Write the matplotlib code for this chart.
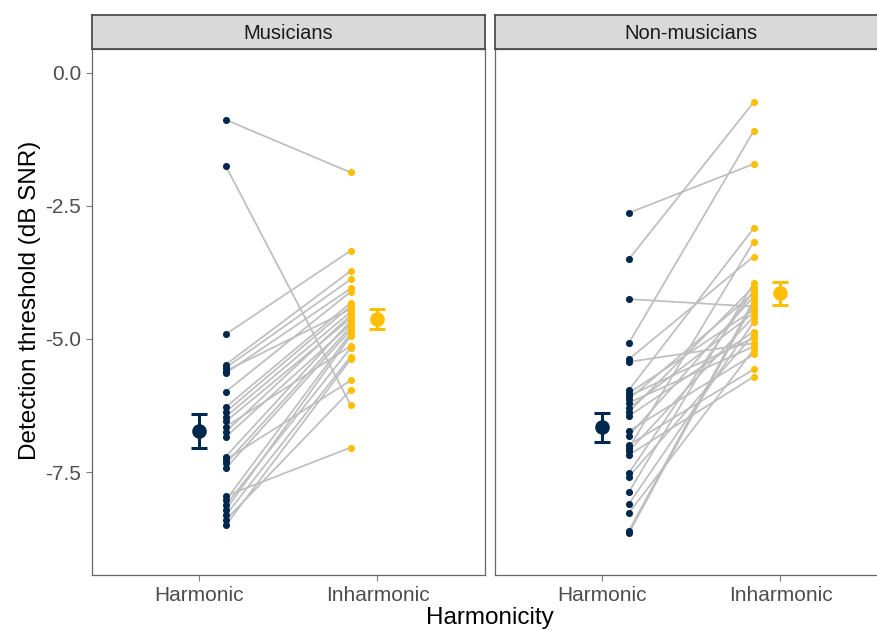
import numpy as np
import matplotlib
matplotlib.use("Agg")
import matplotlib.pyplot as plt

plt.rcParams['font.family'] = ['Liberation Sans', 'DejaVu Sans']

groups = ['Musicians', 'Non-musicians']
conditions = ['Harmonic', 'Inharmonic']

# paired thresholds (dB SNR), one entry per listener
mus_harm = [-0.88, -1.75, -4.91, -5.48, -5.54, -5.60, -5.64, -5.99, -6.28, -6.37, -6.46, -6.55, -6.65,
            -6.74, -6.84, -7.21, -7.27, -7.34, -7.43, -7.95, -8.03, -8.12, -8.21, -8.31, -8.40, -8.50]
mus_inh = [-1.87, -6.24, -3.34, -3.72, -3.88, -4.44, -4.05, -4.11, -4.32, -4.38, -4.49, -4.61, -5.13,
           -4.55, -4.72, -4.66, -5.78, -4.77, -4.83, -7.04, -4.89, -5.17, -4.94, -5.33, -5.96, -5.38]

non_harm = [-2.63, -3.50, -4.25, -5.08, -5.38, -5.43, -5.96, -6.02, -6.07, -6.13, -6.20, -6.30, -6.37, -6.45,
            -6.73, -6.82, -6.99, -7.05, -7.11, -7.18, -7.52, -7.59, -7.88, -8.10, -8.27, -8.61, -8.65]
non_inh = [-1.71, -0.55, -4.39, -1.09, -3.45, -5.08, -2.92, -4.45, -4.98, -4.14, -5.14, -4.51, -4.02, -4.86,
           -5.29, -4.20, -5.57, -3.17, -4.58, -5.71, -4.08, -4.92, -3.95, -4.68, -5.20, -4.27, -4.32]

# group means and standard errors [harmonic, inharmonic]
mus_mean = [-6.73, -4.63]
mus_se = [0.32, 0.19]
non_mean = [-6.66, -4.14]
non_se = [0.27, 0.22]

yticks = [0.0, -2.5, -5.0, -7.5]

navy = '#00274C'
gold = '#FFBF00'
cols = [navy, gold]

W, H = 878, 630
fig = plt.figure(figsize=(W / 100, H / 100), dpi=100)

panel_left = [92, 495]
panel_w = 392.5
top, bottom, strip_top = 49, 575, 15

data = [(mus_harm, mus_inh, mus_mean, mus_se), (non_harm, non_inh, non_mean, non_se)]

for k, (h, i, m, se) in enumerate(data):
    x0 = panel_left[k]
    ax = fig.add_axes([x0 / W, 1 - bottom / H, panel_w / W, (bottom - top) / H])
    for a, b in zip(h, i):
        ax.plot([1.15, 1.85], [a, b], color='#BEBEBE', lw=1.25, zorder=1)
    ax.scatter(np.full(len(h), 1.15), h, s=26, color=navy, zorder=2, linewidths=0)
    ax.scatter(np.full(len(i), 1.85), i, s=26, color=gold, zorder=2, linewidths=0)
    for j in range(2):
        ax.errorbar(j + 1, m[j], yerr=se[j], fmt='o', color=cols[j], ms=9.5,
                    elinewidth=2.2, capsize=5.5, capthick=2.2, zorder=3)
    ax.set_xlim(0.4, 2.6)
    ax.set_ylim(-9.436, 0.451)
    ax.set_xticks([1, 2])
    ax.set_xticklabels(conditions)
    ax.tick_params(colors='#7F7F7F', labelcolor='#4D4D4D', labelsize=15, length=4, width=0.8, pad=4,
                   right=False, top=False)
    if k == 0:
        ax.set_yticks(yticks)
        ax.set_yticklabels(['%.1f' % v for v in yticks])
    else:
        ax.set_yticks([])
    for sp in ax.spines.values():
        sp.set_color('#666666')
        sp.set_linewidth(0.9)

    sax = fig.add_axes([x0 / W, 1 - top / H, panel_w / W, (top - strip_top) / H])
    sax.set_facecolor('#D9D9D9')
    sax.set_xticks([])
    sax.set_yticks([])
    for sp in sax.spines.values():
        sp.set_color('#4D4D4D')
        sp.set_linewidth(1.3)
    sax.text(0.5, 0.47, groups[k], ha='center', va='center', fontsize=14.5, color='#1A1A1A',
             transform=sax.transAxes)

fig.text(490 / W, 1 - 618 / H, 'Harmonicity', ha='center', va='center', fontsize=17.5, color='black')
fig.text(30 / W, 1 - 300 / H, 'Detection threshold (dB SNR)', ha='center', va='center',
         rotation=90, fontsize=17.5, color='black')

fig.savefig('out.png', dpi=100, facecolor='white')
